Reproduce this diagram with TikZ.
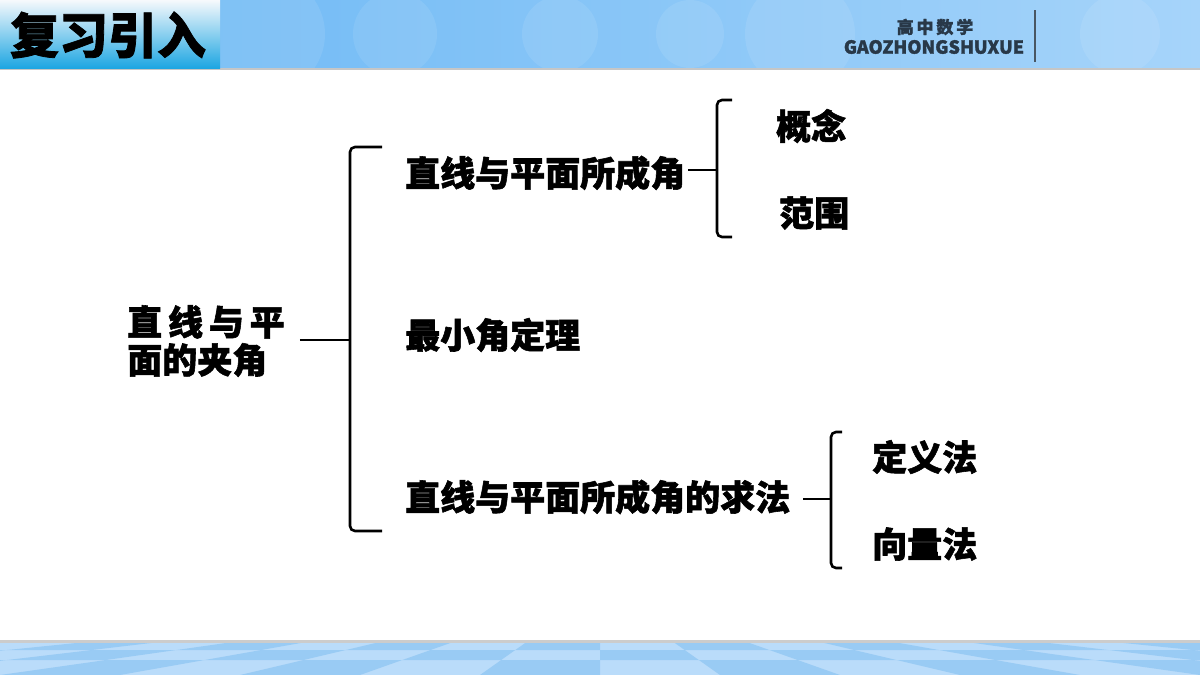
\documentclass[tikz,border=0pt]{standalone}
\usepackage{fontspec}
\newfontfamily\cjk{Noto Sans CJK SC}[BoldFeatures={FakeBold=1.6}]
\usetikzlibrary{positioning}
\definecolor{hdrA}{RGB}{104,182,244}
\definecolor{hdrB}{RGB}{166,212,250}
\definecolor{ttlA}{RGB}{246,249,252}
\definecolor{ttlB}{RGB}{30,166,226}
\definecolor{logo}{RGB}{40,56,72}
\definecolor{floorA}{RGB}{186,220,250}
\definecolor{floorB}{RGB}{140,196,242}
\tikzset{
  item/.style={font=\cjk\bfseries\fontsize{35}{38}\selectfont, inner sep=0pt, anchor=west},
  brc/.style={line width=2.6pt, rounded corners=5pt},
  tile/.style={fill=floorB, opacity=0.7}
}
\begin{document}
\begin{tikzpicture}[x=1pt, y=-1pt]
        \useasboundingbox (0,0) rectangle (1200,675);
        % 顶部标题栏
        \shade[left color=hdrA, right color=hdrB] (0,0) rectangle (1200,68);
        \foreach \cx/\cr in {265/60, 395/42, 560/38, 690/34, 800/55, 1120/40} {
          \fill[white, opacity=0.09] (\cx,34) circle (\cr);
        }
        \fill[gray!45] (0,68) rectangle (1200,70);
        \shade[top color=ttlA, bottom color=ttlB] (0,0) rectangle (220,68);
        \node[font=\cjk\bfseries\fontsize{49}{52}\selectfont, inner sep=0pt] (title) at (108,35) {复习引入};
        \node[font=\cjk\bfseries\fontsize{17}{19}\selectfont, text=logo, inner sep=0pt] (logocn) at (935,27) {高\,中\,数\,学};
        \node[font=\cjk\bfseries\fontsize{18}{20}\selectfont, text=logo, inner sep=0pt] (logoen) at (934,47) {GAOZHONGSHUXUE};
        \draw[logo!85, line width=2pt] (1035,10) -- (1035,62);
        % 底部地板
        \fill[gray!40] (0,640) rectangle (1200,643);
        \fill[floorA] (0,643) rectangle (1200,675);
        \begin{scope}
          \clip (0,643) rectangle (1200,675);
          \foreach \i in {-8,...,7} {
            \foreach \ya/\yb [count=\r] in {643/650, 650/660, 660/675} {
              \pgfmathtruncatemacro\odd{mod(\i+\r+20,2)}
              \pgfmathsetmacro\fa{(\ya-590)/85*120}
              \pgfmathsetmacro\fb{(\yb-590)/85*120}
              \ifnum\odd=0
                \fill[tile] ({600+\i*\fa},\ya) -- ({600+(\i+1)*\fa},\ya)
                  -- ({600+(\i+1)*\fb},\yb) -- ({600+\i*\fb},\yb) -- cycle;
              \fi
            }
          }
        \end{scope}
        % 知识结构
        \node[item, anchor=center, align=left] (root) at (206,341) {直\,线\,与\,平\\面的夹角};
        \node[item] (line) at (405,173) {直线与平面所成角};
        \node[item] (thm) at (405,335) {最小角定理};
        \node[item] (method) at (405,497) {直线与平面所成角的求法};
        \node[item] (concept) at (776,126) {概念};
        \node[item] (range) at (779,213) {范围};
        \node[item] (defm) at (872,457) {定义法};
        \node[item] (vecm) at (872,544) {向量法};
        % 大括号
        \coordinate (b1) at (350,340);
        \coordinate (b1t) at (382,147);
        \coordinate (b1b) at (382,531);
        \draw[brc] (b1t) -| (b1) |- (b1b);
        \draw[line width=2pt] ([xshift=15pt]root.east |- b1) -- (b1);
        \coordinate (b2) at (717,170);
        \coordinate (b2t) at (732,100);
        \coordinate (b2b) at (732,237);
        \draw[brc] (b2t) -| (b2) |- (b2b);
        \draw[line width=2pt] ([xshift=3pt]line.east |- b2) -- (b2);
        \coordinate (b3) at (831,499);
        \coordinate (b3t) at (842,432);
        \coordinate (b3b) at (842,568);
        \draw[brc] (b3t) -| (b3) |- (b3b);
        \draw[line width=2pt] ([xshift=13pt]method.east |- b3) -- (b3);
    \end{tikzpicture}
\end{document}
